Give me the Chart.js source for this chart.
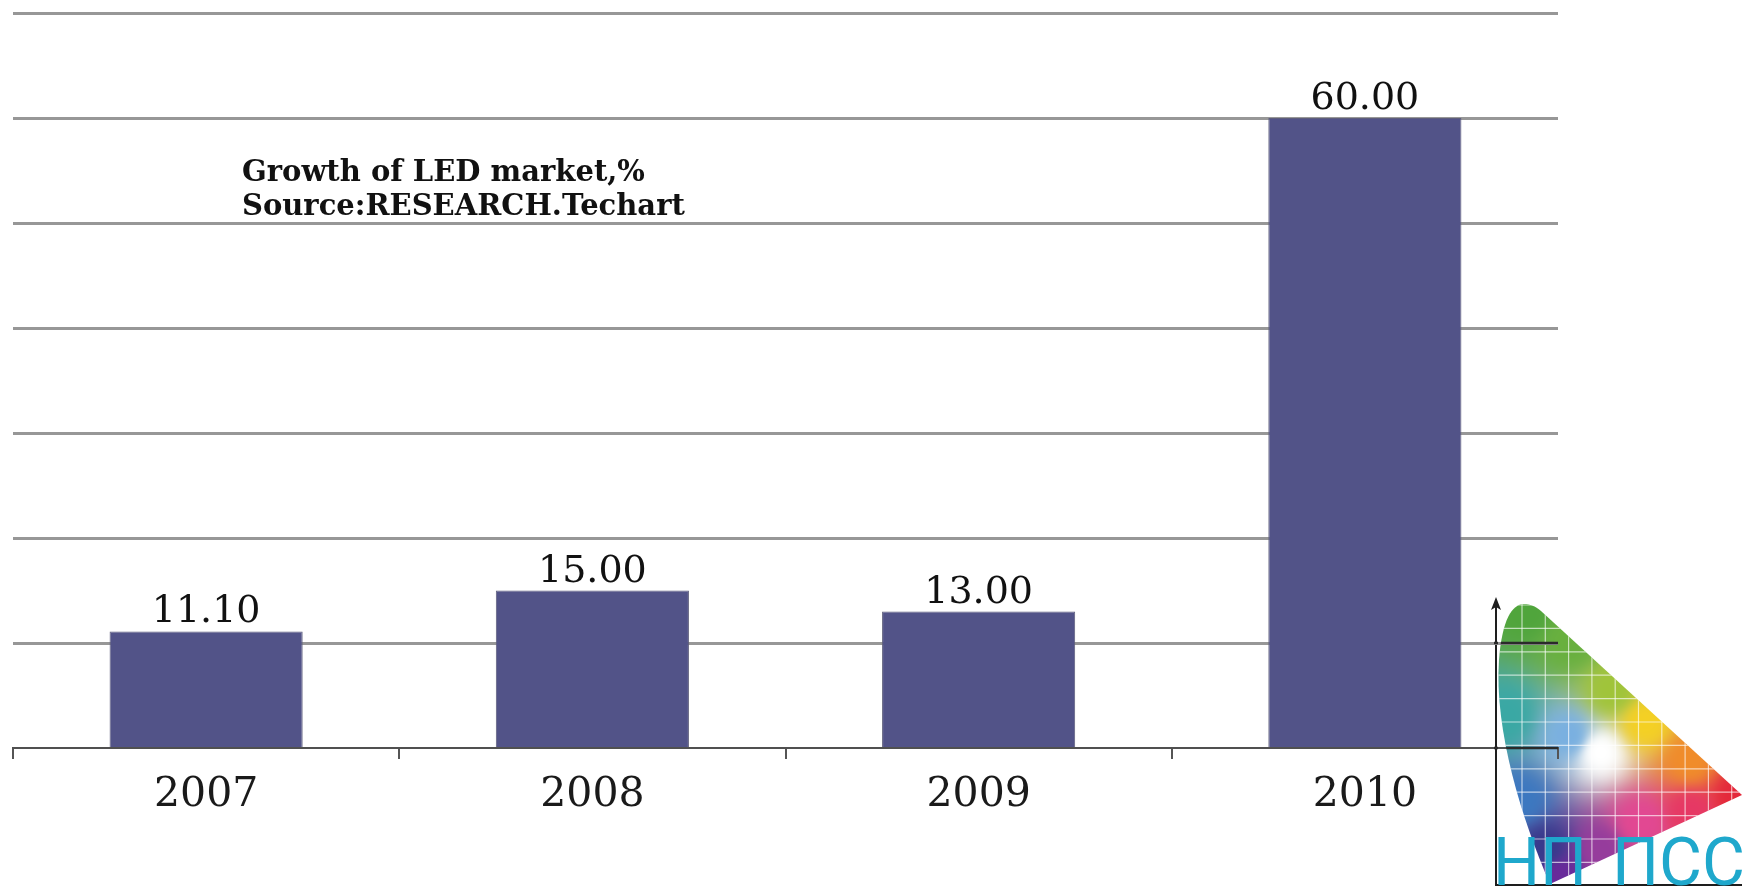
<!DOCTYPE html>
<html>
<head>
<meta charset="utf-8">
<script src="https://cdn.jsdelivr.net/npm/chart.js@4"></script>
<style>
  html, body { margin: 0; padding: 0; background: #ffffff; }
  #wrap { position: relative; width: 1742px; height: 886px; overflow: hidden; }
  #chart { position: absolute; left: 0; top: 0; }
  #title {
    position: absolute; left: 242px; top: 154px;
    font-family: "DejaVu Serif", serif; font-weight: bold; font-size: 29px;
    line-height: 34px; color: #111; white-space: nowrap;
  }
</style>
</head>
<body>
<div id="wrap">
  <canvas id="chart" width="1742" height="886"></canvas>
  <div id="title">Growth of LED market,%<br>Source:RESEARCH.Techart</div>
</div>
<script>
// ---- data ----
const categories = ['2007', '2008', '2009', '2010'];
const growthValues = [11.10, 15.00, 13.00, 60.00];
const yAxisMin = 0;
const yAxisMax = 70;
const yAxisStep = 10;
const logoText = 'НП ПСС';

// ---- decorative logo (CIE-like gamut) drawn behind the chart ----
function gamutPath(ctx) {
  ctx.beginPath();
  ctx.moveTo(1550, 884);
  ctx.bezierCurveTo(1522, 820, 1494, 730, 1499, 660);
  ctx.bezierCurveTo(1502, 620, 1512, 604, 1524, 604);
  ctx.bezierCurveTo(1530, 604, 1535, 606, 1541, 611);
  ctx.lineTo(1742, 795);
  ctx.closePath();
}
const anchors = [
  [1525, 612, [80, 165, 60]],
  [1570, 640, [104, 176, 62]],
  [1612, 690, [160, 196, 58]],
  [1645, 722, [244, 208, 36]],
  [1690, 760, [240, 140, 42]],
  [1738, 795, [228, 40, 58]],
  [1690, 812, [230, 56, 100]],
  [1640, 822, [226, 72, 146]],
  [1600, 752, [255, 255, 255]],
  [1568, 735, [122, 176, 224]],
  [1506, 715, [58, 168, 164]],
  [1520, 800, [60, 120, 192]],
  [1545, 848, [56, 58, 140]],
  [1560, 876, [104, 42, 154]],
  [1600, 850, [150, 60, 156]]
];
let logoCanvas = null;
function buildLogo() {
  const ox = 1490, oy = 596, W = 252, H = 290;
  const c = document.createElement('canvas');
  c.width = W; c.height = H;
  const g = c.getContext('2d');
  const img = g.createImageData(W, H);
  for (let j = 0; j < H; j++) {
    for (let i = 0; i < W; i++) {
      const px = ox + i, py = oy + j;
      let ws = 0, r = 0, gg = 0, b = 0;
      for (const a of anchors) {
        const dx = px - a[0], dy = py - a[1];
        const d2 = dx * dx + dy * dy + 1;
        const w = 1 / Math.pow(d2, 1.6);
        ws += w; r += w * a[2][0]; gg += w * a[2][1]; b += w * a[2][2];
      }
      const k = (j * W + i) * 4;
      img.data[k] = r / ws; img.data[k + 1] = gg / ws; img.data[k + 2] = b / ws; img.data[k + 3] = 255;
    }
  }
  g.putImageData(img, 0, 0);
  logoCanvas = { c, ox, oy };
}
const logoPlugin = {
  id: 'logo',
  beforeDraw(chart) {
    const ctx = chart.ctx;
    if (!logoCanvas) buildLogo();
    ctx.save();
    gamutPath(ctx);
    ctx.clip();
    ctx.drawImage(logoCanvas.c, logoCanvas.ox, logoCanvas.oy);
    ctx.strokeStyle = 'rgba(255,255,255,0.65)';
    ctx.lineWidth = 1.2;
    for (let x = 1522; x < 1742; x += 23.3) {
      ctx.beginPath(); ctx.moveTo(x, 596); ctx.lineTo(x, 886); ctx.stroke();
    }
    for (let y = 605; y < 886; y += 23.4) {
      ctx.beginPath(); ctx.moveTo(1490, y); ctx.lineTo(1742, y); ctx.stroke();
    }
    ctx.restore();
    // axes with arrow
    ctx.save();
    ctx.strokeStyle = '#1e1e1e';
    ctx.fillStyle = '#1e1e1e';
    ctx.lineWidth = 2;
    ctx.beginPath(); ctx.moveTo(1496, 606); ctx.lineTo(1496, 886); ctx.stroke();
    ctx.beginPath(); ctx.moveTo(1495, 885); ctx.lineTo(1742, 885); ctx.stroke();
    ctx.beginPath(); ctx.moveTo(1496, 597); ctx.lineTo(1491, 610); ctx.lineTo(1496, 607); ctx.lineTo(1501, 610); ctx.closePath(); ctx.fill();
    // logo text: two words, left and right aligned
    const words = logoText.split(' ');
    ctx.fillStyle = '#1fa8cc';
    ctx.font = '400 66px Roboto';
    ctx.textBaseline = 'alphabetic';
    ctx.textAlign = 'left';
    ctx.fillText(words[0], 1493, 885);
    ctx.textAlign = 'right';
    ctx.fillText(words[1], 1745, 885);
    ctx.restore();
  },
  afterDraw(chart) {
    // gridlines look darker where they cross the logo
    const ctx = chart.ctx;
    const ys = chart.scales.y;
    ctx.save();
    gamutPath(ctx);
    ctx.rect(1494, 596, 4, 290);
    ctx.clip();
    ctx.strokeStyle = '#2a2a2a';
    ctx.lineWidth = 2.5;
    for (let v = yAxisMin; v <= yAxisMax; v += yAxisStep) {
      const y = ys.getPixelForValue(v);
      ctx.beginPath(); ctx.moveTo(1490, y); ctx.lineTo(chart.chartArea.right, y); ctx.stroke();
    }
    ctx.restore();
  }
};

// ---- value labels ----
const valueLabels = {
  id: 'valueLabels',
  afterDatasetsDraw(chart) {
    const ctx = chart.ctx;
    const meta = chart.getDatasetMeta(0);
    ctx.save();
    ctx.font = '38px "DejaVu Serif"';
    ctx.fillStyle = '#111';
    ctx.textAlign = 'center';
    ctx.textBaseline = 'alphabetic';
    meta.data.forEach((bar, i) => {
      ctx.fillText(growthValues[i].toFixed(2), bar.x, bar.y - 9);
    });
    ctx.restore();
  }
};

new Chart(document.getElementById('chart'), {
  type: 'bar',
  data: {
    labels: categories,
    datasets: [{
      data: growthValues,
      backgroundColor: '#525388',
      borderColor: '#5e5e7c',
      borderWidth: 1,
      categoryPercentage: 1.0,
      barPercentage: 0.5
    }]
  },
  options: {
    responsive: false,
    devicePixelRatio: 1,
    animation: false,
    events: [],
    layout: { padding: { left: 13, top: 13, right: 184, bottom: 0 } },
    plugins: { legend: { display: false }, tooltip: { enabled: false }, title: { display: false } },
    scales: {
      x: {
        offset: true,
        grid: {
          offset: true,
          drawOnChartArea: false,
          drawTicks: true,
          tickLength: 11,
          color: '#555555',
          lineWidth: 2
        },
        border: { display: true, color: '#505050', width: 2 },
        ticks: {
          font: { family: 'DejaVu Serif', size: 41 },
          color: '#1a1a1a',
          padding: 12,
          maxRotation: 0
        },
        afterFit(scale) { scale.height = 138; }
      },
      y: {
        min: yAxisMin,
        max: yAxisMax,
        ticks: { display: false, stepSize: yAxisStep },
        grid: {
          drawTicks: false,
          color: (c) => c.tick && c.tick.value === 0 ? '#505050' : '#979797',
          lineWidth: (c) => c.tick && c.tick.value === 0 ? 2 : 3
        },
        border: { display: false },
        afterFit(scale) { scale.width = 0; }
      }
    }
  },
  plugins: [logoPlugin, valueLabels]
});
</script>
</body>
</html>
